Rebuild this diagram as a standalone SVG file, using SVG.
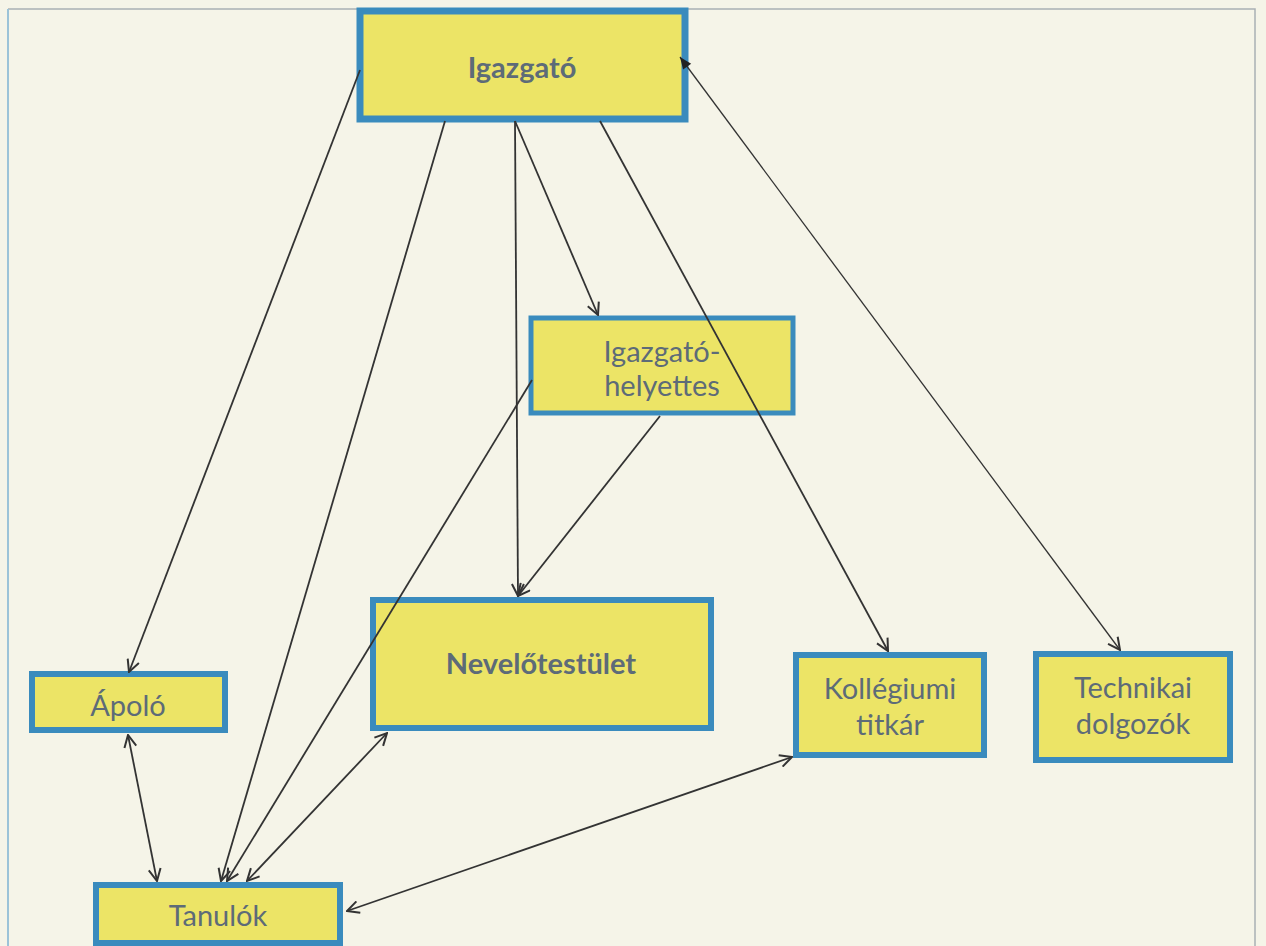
<svg xmlns="http://www.w3.org/2000/svg" width="1266" height="946" viewBox="0 0 1266 946">
<style>
.box{fill:#ece466;stroke:#3a8bbd;stroke-width:6}
.t{font-family:Lato,"Open Sans","Liberation Sans",sans-serif;font-size:29px;fill:#5d6b78;text-anchor:middle}
.b{font-weight:bold}
.c{stroke:#333;stroke-width:1.8;fill:none}
</style>
<defs>
<marker id="a" viewBox="0 0 14 14" refX="13" refY="7" markerWidth="14" markerHeight="14" markerUnits="userSpaceOnUse" orient="auto-start-reverse">
<path d="M1,1 L13,7 L1,13" fill="none" stroke="#333" stroke-width="2"/>
</marker>
<marker id="f" viewBox="0 0 14 14" refX="13" refY="7" markerWidth="14" markerHeight="14" markerUnits="userSpaceOnUse" orient="auto-start-reverse">
<path d="M1,2 L13,7 L1,12 Z" fill="#222"/>
</marker>
</defs>
<rect width="1266" height="946" fill="#f5f4e8"/>
<path d="M8,9 H1255 V946" fill="none" stroke="#a9b0b4" stroke-width="1.5"/>
<path d="M8,9 V946" fill="none" stroke="#9cc3d8" stroke-width="2"/>
<g id="igazgato">
<rect class="box" x="360" y="11" width="325" height="108" style="stroke-width:7"/>
<text class="t b" x="522" y="78">Igazgató</text>
</g>
<g id="helyettes">
<rect class="box" x="531" y="318" width="262" height="95" style="stroke-width:5"/>
<text class="t" x="662" y="362">Igazgató-</text>
<text class="t" x="662" y="396">helyettes</text>
</g>
<g id="nevelotestulet">
<rect class="box" x="373" y="600" width="338" height="128"/>
<text class="t b" x="541" y="674">Nevelőtestület</text>
</g>
<g id="apolo">
<rect class="box" x="32" y="674" width="193" height="56"/>
<text class="t" x="128" y="716">Ápoló</text>
</g>
<g id="tanulok">
<rect class="box" x="96" y="885" width="244" height="58"/>
<text class="t" x="218" y="926">Tanulók</text>
</g>
<g id="kollegiumi">
<rect class="box" x="796" y="655" width="188" height="100"/>
<text class="t" x="890" y="699">Kollégiumi</text>
<text class="t" x="890" y="735">titkár</text>
</g>
<g id="technikai">
<rect class="box" x="1036" y="654" width="194" height="106"/>
<text class="t" x="1133" y="698">Technikai</text>
<text class="t" x="1133" y="734">dolgozók</text>
</g>
<g id="connectors">
<line class="c" x1="360" y1="70" x2="129" y2="672" marker-end="url(#a)"/>
<line class="c" x1="445" y1="121" x2="221" y2="881" marker-end="url(#a)"/>
<line class="c" x1="515" y1="121" x2="518" y2="596" marker-end="url(#a)"/>
<line class="c" x1="515" y1="121" x2="598" y2="315" marker-end="url(#a)"/>
<line class="c" x1="600" y1="121" x2="888" y2="651" marker-end="url(#a)"/>
<line class="c" style="stroke-width:1.3" x1="680" y1="57" x2="1120" y2="650" marker-start="url(#f)" marker-end="url(#a)"/>
<line class="c" x1="532" y1="380" x2="227" y2="881" marker-end="url(#a)"/>
<line class="c" x1="660" y1="416" x2="518" y2="596" marker-end="url(#a)"/>
<line class="c" x1="128" y1="735" x2="157" y2="881" marker-start="url(#a)" marker-end="url(#a)"/>
<line class="c" x1="387" y1="733" x2="247" y2="881" marker-start="url(#a)" marker-end="url(#a)"/>
<line class="c" x1="792" y1="757" x2="347" y2="911" marker-start="url(#a)" marker-end="url(#a)"/>
</g>
</svg>
